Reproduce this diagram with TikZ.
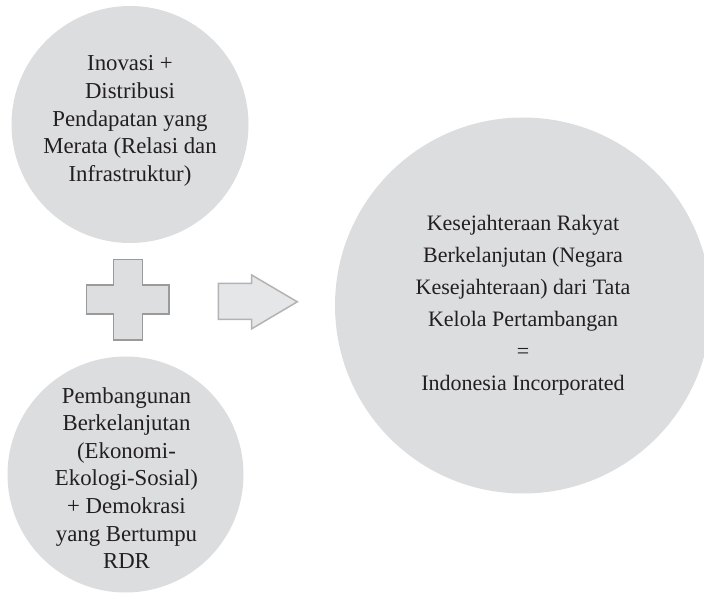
\documentclass[tikz,border=0pt]{standalone}
\usepackage{fontspec}
\setmainfont{Liberation Serif}
\definecolor{circfill}{HTML}{DCDDDF}
\definecolor{plusfill}{HTML}{DDDEE0}
\definecolor{plusline}{HTML}{9A9A9B}
\definecolor{arrfill}{HTML}{E5E6E7}
\definecolor{arrline}{HTML}{B3B3B4}
\definecolor{txt}{HTML}{231F20}
\tikzset{
  bubble/.style={circle, fill=circfill, draw=none, inner sep=0pt, align=center, text=txt},
  smalltext/.style={font=\fontsize{22.8}{27.6}\selectfont},
  bigtext/.style={font=\fontsize{22}{32}\selectfont},
}
\begin{document}
\begin{tikzpicture}[x=1pt,y=-1pt]
\useasboundingbox (0,0) rectangle (704,593);
\clip (0,0) rectangle (704,593);
\node[bubble, minimum size=237pt] (top) at (130,124.5) {};
\node[smalltext, align=center, text=txt] (toptext) at (130,121)
  {Inovasi +\\Distribusi\\Pendapatan yang\\Merata (Relasi dan\\Infrastruktur)};
\node[bubble, minimum size=236pt] (bot) at (125.5,474.5) {};
\node[smalltext, align=center, text=txt] (bottext) at (126.5,478)
  {Pembangunan\\Berkelanjutan\\(Ekonomi-\\Ekologi-Sosial)\\+ Demokrasi\\yang Bertumpu\\RDR};
\node[bubble, bigtext, minimum size=376pt] (big) at (523,305.5)
  {Kesejahteraan Rakyat\\Berkelanjutan (Negara\\Kesejahteraan) dari Tata\\Kelola Pertambangan\\=\\Indonesia Incorporated};
% plus sign
\draw[fill=plusfill, draw=plusline, line width=1.5pt]
  (113.3,259.3) -- (142.7,259.3) -- (142.7,285) -- (169,285) -- (169,314)
  -- (142.7,314) -- (142.7,340) -- (113.3,340) -- (113.3,314) -- (86.7,314)
  -- (86.7,285) -- (113.3,285) -- cycle;
% arrow
\draw[fill=arrfill, draw=arrline, line width=1.5pt, line join=miter]
  (218.3,283.3) -- (251.7,283.3) -- (251.7,275) -- (297.3,301.8)
  -- (251.7,328.8) -- (251.7,319.3) -- (218.3,319.3) -- cycle;
\end{tikzpicture}
\end{document}
